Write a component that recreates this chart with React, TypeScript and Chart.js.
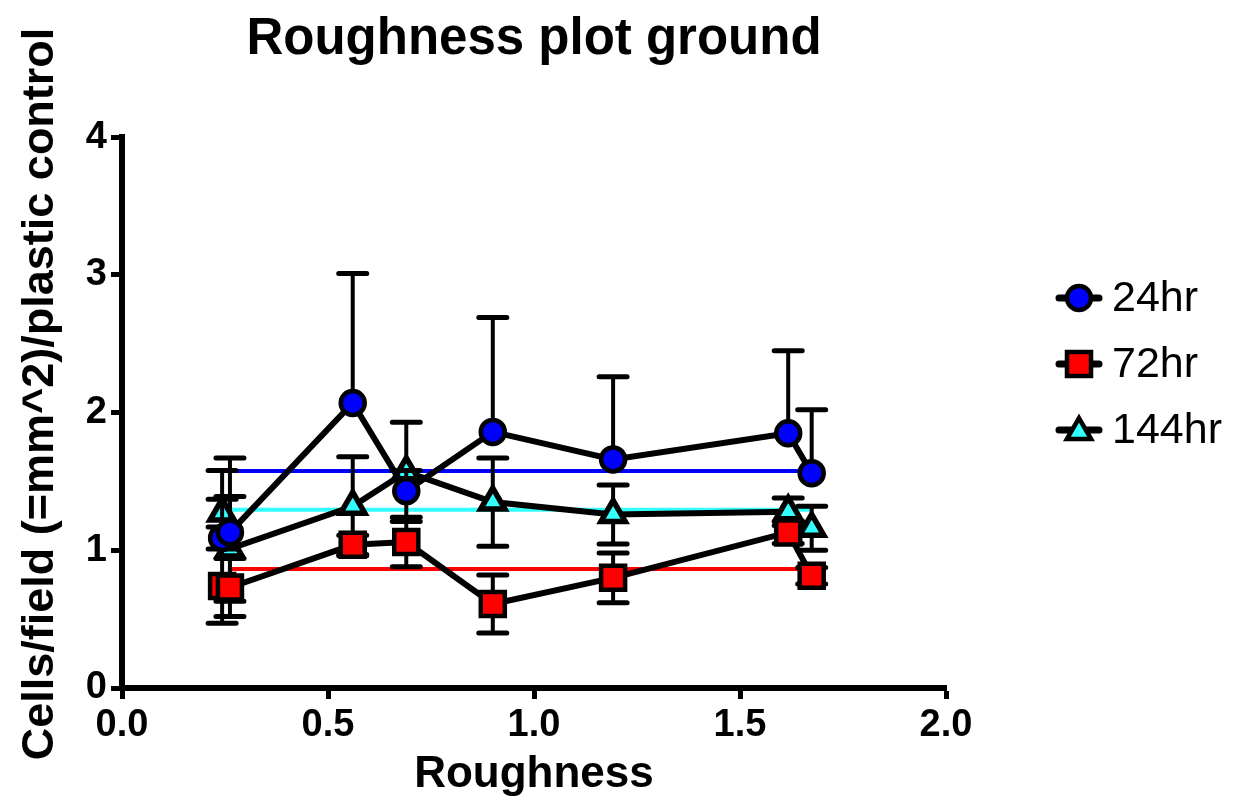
import React, { useEffect, useRef } from 'react';
import { Chart, registerables } from 'chart.js';

Chart.register(...registerables);

const FONT = '"Liberation Sans", Arial, Helvetica, sans-serif';

const chartTitle = 'Roughness plot ground';
const xAxisTitle = 'Roughness';
const yAxisTitle = 'Cells/field (=mm^2)/plastic control';

const seriesNames = ['24hr', '72hr', '144hr'];
const seriesColors = ['#0000ff', '#ff0000', '#33ffff'];
const seriesShapes = ['circle', 'rect', 'triangle'];

const roughness = [0.243, 0.262, 0.56, 0.69, 0.9, 1.192, 1.617, 1.674];

const mean24 = [1.09, 1.13, 2.07, 1.43, 1.86, 1.66, 1.85, 1.56];
const err24 = [0.49, 0.54, 0.94, 0.15, 0.83, 0.6, 0.6, 0.46];

const mean72 = [0.74, 0.73, 1.04, 1.06, 0.61, 0.8, 1.13, 0.815];
const err72 = [0.27, 0.21, 0.07, 0.18, 0.21, 0.18, 0.08, 0.06];

const mean144 = [1.27, 1.01, 1.32, 1.57, 1.35, 1.26, 1.28, 1.16];
const err144 = [0.1, 0.38, 0.36, 0.36, 0.32, 0.215, 0.1, 0.16];

const errDirection = ['above', 'both', 'both'];

// plastic control reference levels
const controlLevels = [1.575, 0.865, 1.295];
const controlRange = [0.262, 1.674];

const xTicks = [0, 0.5, 1.0, 1.5, 2.0];
const yTicks = [0, 1, 2, 3, 4];

const means = [mean24, mean72, mean144];
const errs = [err24, err72, err144];

const markerRadius: Record<string, number> = { circle: 12, rect: 17, triangle: 14 };
const markerBorder: Record<string, number> = { circle: 4.5, rect: 4.5, triangle: 5.5 };

const errorBarPlugin = {
  id: 'errorBars',
  beforeDatasetDraw(chart: any, args: any) {
    const ds: any = chart.data.datasets[args.index];
    if (!ds.errors) return;
    const ctx = chart.ctx;
    const xs = chart.scales.x;
    const ys = chart.scales.y;
    ctx.save();
    ctx.strokeStyle = '#000';
    ctx.lineCap = 'butt';
    const cap = 14;
    ds.data.forEach((p: any, i: number) => {
      const e = ds.errors[i];
      const px = xs.getPixelForValue(p.x);
      const py = ys.getPixelForValue(p.y);
      const top = ys.getPixelForValue(p.y + e);
      const bot = ds.errDir === 'above' ? py : ys.getPixelForValue(p.y - e);
      ctx.lineWidth = 4;
      ctx.beginPath();
      ctx.moveTo(px, top);
      ctx.lineTo(px, bot);
      ctx.stroke();
      ctx.lineWidth = 5;
      ctx.lineCap = 'round';
      ctx.beginPath();
      ctx.moveTo(px - cap, top);
      ctx.lineTo(px + cap, top);
      if (ds.errDir !== 'above') {
        ctx.moveTo(px - cap, bot);
        ctx.lineTo(px + cap, bot);
      }
      ctx.stroke();
      ctx.lineCap = 'butt';
    });
    ctx.restore();
  },
};

function drawShape(ctx: CanvasRenderingContext2D, shape: string, x: number, y: number, r: number) {
  ctx.beginPath();
  if (shape === 'circle') {
    ctx.arc(x, y, r, 0, Math.PI * 2);
  } else if (shape === 'rect') {
    const s = Math.SQRT1_2 * r;
    ctx.rect(x - s, y - s, 2 * s, 2 * s);
  } else {
    let rad = 0;
    ctx.moveTo(x + Math.sin(rad) * r, y - Math.cos(rad) * r);
    rad += (2 * Math.PI) / 3;
    ctx.lineTo(x + Math.sin(rad) * r, y - Math.cos(rad) * r);
    rad += (2 * Math.PI) / 3;
    ctx.lineTo(x + Math.sin(rad) * r, y - Math.cos(rad) * r);
    ctx.closePath();
  }
  ctx.fill();
  ctx.stroke();
}

const sideTextPlugin = {
  id: 'sideText',
  afterDraw(chart: any) {
    const ctx: CanvasRenderingContext2D = chart.ctx;
    ctx.save();
    // y axis title
    ctx.translate(41, 394);
    ctx.rotate(-Math.PI / 2);
    ctx.font = `bold 45px ${FONT}`;
    ctx.fillStyle = '#000';
    ctx.textAlign = 'center';
    ctx.textBaseline = 'middle';
    ctx.fillText(yAxisTitle, 0, 0);
    ctx.restore();

    // legend
    const lx = 1079;
    const y0 = 298;
    const dy = 66;
    seriesNames.forEach((name, i) => {
      const y = y0 + i * dy;
      const shape = seriesShapes[i];
      ctx.save();
      ctx.strokeStyle = '#000';
      ctx.lineWidth = 7;
      ctx.lineCap = 'round';
      ctx.beginPath();
      ctx.moveTo(lx - 20, y);
      ctx.lineTo(lx + 20, y);
      ctx.stroke();
      ctx.fillStyle = seriesColors[i];
      ctx.lineWidth = 4.5;
      ctx.lineJoin = 'miter';
      const r = shape === 'rect' ? 17 : shape === 'triangle' ? 14 : 12;
      drawShape(ctx, shape, lx, y + (shape === 'triangle' ? 2 : 0), r);
      ctx.fillStyle = '#000';
      ctx.font = `43px ${FONT}`;
      ctx.textAlign = 'left';
      ctx.textBaseline = 'middle';
      ctx.fillText(name, 1112, y + 1);
      ctx.restore();
    });
  },
};

export default function App() {
  const ref = useRef<HTMLCanvasElement | null>(null);

  useEffect(() => {
    if (!ref.current) return;
    const seriesDatasets = seriesNames.map((name, i) => ({
      label: name,
      data: roughness.map((x, j) => ({ x, y: means[i][j] })),
      errors: errs[i],
      errDir: errDirection[i],
      borderColor: '#000',
      borderWidth: 6,
      backgroundColor: seriesColors[i],
      pointStyle: seriesShapes[i],
      pointRadius: markerRadius[seriesShapes[i]],
      pointBackgroundColor: seriesColors[i],
      pointBorderColor: '#000',
      pointBorderWidth: markerBorder[seriesShapes[i]],
      tension: 0,
      fill: false,
    }));
    const controlDatasets = controlLevels.map((lvl, i) => ({
      label: `${seriesNames[i]} control`,
      data: controlRange.map((x) => ({ x, y: lvl })),
      borderColor: seriesColors[i],
      borderWidth: 4,
      pointRadius: 0,
      tension: 0,
      fill: false,
    }));

    const chart = new Chart(ref.current, {
      type: 'line',
      data: { datasets: [...seriesDatasets, ...controlDatasets] as any },
      plugins: [errorBarPlugin, sideTextPlugin],
      options: {
        animation: false,
        responsive: false,
        layout: { padding: { left: 0, top: 0, right: 301, bottom: 0 } },
        plugins: {
          legend: { display: false },
          tooltip: { enabled: false },
          title: {
            display: true,
            text: chartTitle,
            fullSize: false,
            color: '#000',
            font: { family: FONT, size: 51, weight: 'bold' },
            padding: { top: 9, bottom: 67 },
          },
        },
        scales: {
          x: {
            type: 'linear',
            min: 0,
            max: 2,
            afterBuildTicks: (s: any) => {
              s.ticks = xTicks.map((v) => ({ value: v }));
            },
            afterFit: (s: any) => {
              s.height = 116;
            },
            border: { display: true, color: '#000', width: 6 },
            grid: { drawOnChartArea: false, drawTicks: true, tickLength: 11, tickWidth: 5, tickColor: '#000' },
            ticks: {
              color: '#000',
              padding: 4,
              font: { family: FONT, size: 38, weight: 'bold' },
              callback: (v: any) => Number(v).toFixed(1),
              maxRotation: 0,
            },
            title: {
              display: true,
              text: xAxisTitle,
              color: '#000',
              font: { family: FONT, size: 44, weight: 'bold' },
              padding: { top: 0, bottom: 3 },
            },
          },
          y: {
            type: 'linear',
            min: 0,
            max: 4,
            afterBuildTicks: (s: any) => {
              s.ticks = yTicks.map((v) => ({ value: v }));
            },
            afterFit: (s: any) => {
              s.width = 122;
            },
            border: { display: true, color: '#000', width: 6 },
            grid: { drawOnChartArea: false, drawTicks: true, tickLength: 11, tickWidth: 5, tickColor: '#000' },
            ticks: {
              color: '#000',
              padding: 4,
              font: { family: FONT, size: 38, weight: 'bold' },
              callback: (v: any) => String(v),
            },
          },
        },
      } as any,
    });
    return () => chart.destroy();
  }, []);

  return (
    <div style={{ position: 'fixed', left: 0, top: 0, width: 1247, height: 804, background: '#fff' }}>
      <canvas ref={ref} width={1247} height={804} style={{ display: 'block', width: 1247, height: 804 }} />
    </div>
  );
}
